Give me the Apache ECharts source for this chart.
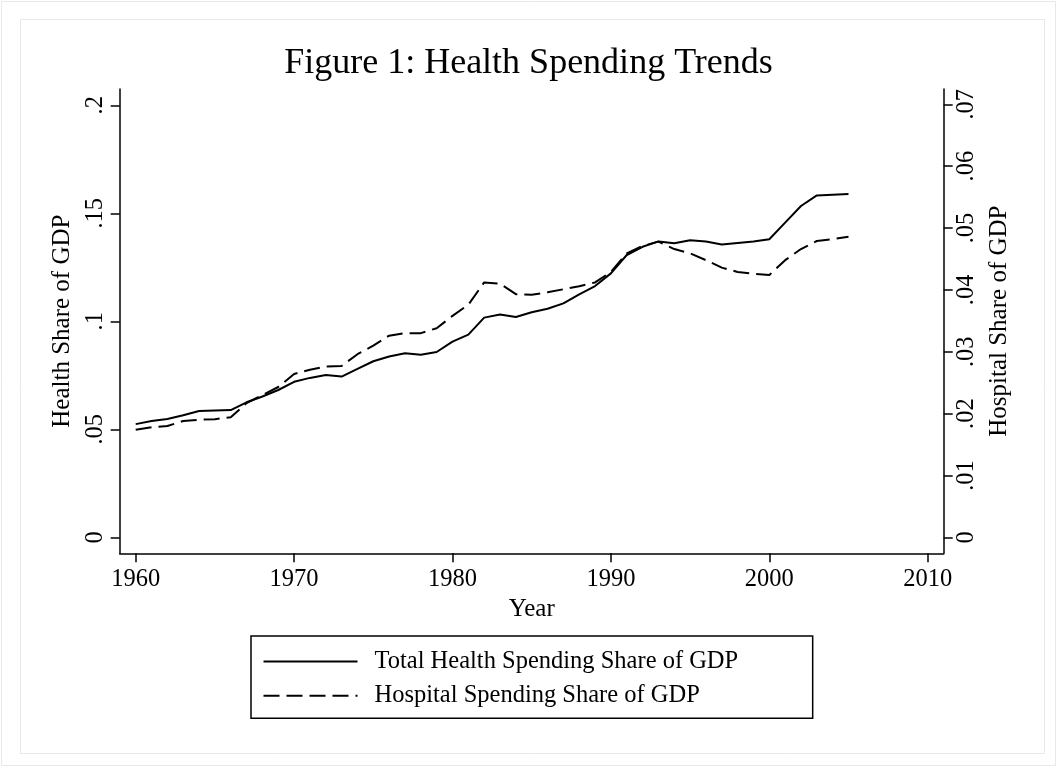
<!DOCTYPE html>
<html><head><meta charset="utf-8">
<script src="https://cdn.jsdelivr.net/npm/echarts@6/dist/echarts.min.js"></script>
<style>html,body{margin:0;padding:0;background:#fff}#c{width:1057px;height:767px}</style>
</head><body><div id="c"></div>
<script>
const years = [1960,1961,1962,1963,1964,1965,1966,1967,1968,1969,
  1970,1971,1972,1973,1974,1975,1976,1977,1978,1979,
  1980,1981,1982,1983,1984,1985,1986,1987,1988,1989,
  1990,1991,1992,1993,1994,1995,1996,1997,1998,1999,
  2000,2001,2002,2003,2004,2005];
const totalHealthShare = [0.0524,0.0538,0.0548,0.0565,0.0585,0.0587,0.0589,0.0625,0.0652,0.0682,
  0.0720,0.0738,0.0751,0.0744,0.0780,0.0815,0.0837,0.0852,0.0845,0.0858,
  0.0906,0.0938,0.1017,0.1031,0.1020,0.1042,0.1058,0.1083,0.1125,0.1163,
  0.1222,0.1307,0.1345,0.1370,0.1361,0.1375,0.1369,0.1356,0.1363,0.1369,
  0.1380,0.1457,0.1534,0.1583,0.1586,0.1589];
const hospitalShare = [0.0174,0.0178,0.0180,0.0188,0.0190,0.0191,0.0194,0.0217,0.0230,0.0243,
  0.0264,0.0271,0.0276,0.0277,0.0296,0.0310,0.0326,0.0330,0.0330,0.0338,
  0.0358,0.0376,0.0412,0.0410,0.0393,0.0392,0.0396,0.0401,0.0406,0.0412,
  0.0429,0.0459,0.0471,0.0478,0.0466,0.0459,0.0448,0.0436,0.0429,0.0426,
  0.0424,0.0448,0.0466,0.0479,0.0482,0.0486];
const seriesNames = ['Total Health Spending Share of GDP','Hospital Spending Share of GDP'];
const xTickValues = [1960,1970,1980,1990,2000,2010];
const leftTickValues = [0,0.05,0.1,0.15,0.2];
const leftTickLabels = ['0','.05','.1','.15','.2'];
const rightTickValues = [0,0.01,0.02,0.03,0.04,0.05,0.06,0.07];
const rightTickLabels = ['0','.01','.02','.03','.04','.05','.06','.07'];

const FONT = 'Liberation Serif';
function lookup(vals, labels){
  return function(v){
    const i = vals.findIndex(t => Math.abs(t - v) < 1e-9);
    return i >= 0 ? labels[i] : '';
  };
}
const lineBlack = {color:'#000', width:1.5};
const labelBase = {fontFamily:FONT, fontSize:24.5, color:'#000', showMinLabel:true, showMaxLabel:true, hideOverlap:false};
const nameStyle = {fontFamily:FONT, fontSize:25, color:'#000'};

const chart = echarts.init(document.getElementById('c'), null, {renderer:'canvas'});
chart.setOption({
  animation:false,
  backgroundColor:'#fff',
  graphic:[
    {type:'rect', shape:{x:1.5,y:1.5,width:1054,height:764}, style:{fill:'none', stroke:'#e8e8e8', lineWidth:1}, silent:true},
    {type:'rect', shape:{x:20.5,y:19.5,width:1024,height:734}, style:{fill:'none', stroke:'#e8e8e8', lineWidth:1}, silent:true}
  ],
  title:{text:'Figure 1: Health Spending Trends', left:'center', top:46, padding:0,
    textStyle:{fontFamily:FONT, fontSize:36, fontWeight:'normal', color:'#000'}},
  grid:{left:119.7, right:113.3, top:89, bottom:213.7, containLabel:false},
  xAxis:{type:'value', min:1958.99, max:2011.01, position:'bottom',
    axisLine:{show:true, onZero:false, lineStyle:lineBlack},
    axisTick:{show:true, length:9, lineStyle:lineBlack, customValues:xTickValues},
    axisLabel:Object.assign({}, labelBase, {margin:14, customValues:xTickValues, formatter:v => String(v)}),
    splitLine:{show:false},
    name:'Year', nameLocation:'middle', nameGap:40, nameTextStyle:nameStyle},
  yAxis:[
    {type:'value', min:-0.00741, max:0.20755, position:'left',
      axisLine:{show:true, onZero:false, lineStyle:lineBlack},
      axisTick:{show:true, length:9, lineStyle:lineBlack, customValues:leftTickValues},
      axisLabel:Object.assign({}, labelBase, {rotate:90, margin:12, customValues:leftTickValues, formatter:lookup(leftTickValues, leftTickLabels)}),
      splitLine:{show:false},
      name:'Health Share of GDP', nameLocation:'middle', nameGap:43, nameRotate:90, nameTextStyle:nameStyle},
    {type:'value', min:-0.002587, max:0.072473, position:'right',
      axisLine:{show:true, onZero:false, lineStyle:lineBlack},
      axisTick:{show:true, length:9, lineStyle:lineBlack, customValues:rightTickValues},
      axisLabel:Object.assign({}, labelBase, {rotate:90, margin:10, customValues:rightTickValues, formatter:lookup(rightTickValues, rightTickLabels)}),
      splitLine:{show:false},
      name:'Hospital Share of GDP', nameLocation:'middle', nameGap:40, nameRotate:90, nameTextStyle:nameStyle}
  ],
  legend:{
    orient:'vertical', left:251, top:636, padding:[13,74.5,10,11.5],
    itemWidth:94, itemHeight:14, itemGap:9.3,
    borderColor:'#000', borderWidth:1.5, borderRadius:0,
    itemStyle:{color:'transparent', borderColor:'transparent', borderWidth:0, opacity:0},
    textStyle:{fontFamily:FONT, fontSize:24.5, color:'#000', lineHeight:25, padding:[0,0,0,12]},
    data:seriesNames
  },
  series:[
    {type:'line', name:seriesNames[0], yAxisIndex:0, symbol:'none', showSymbol:false,
      data:years.map((y,i)=>[y,totalHealthShare[i]]),
      lineStyle:{color:'#000', width:2}, itemStyle:{color:'#000'}},
    {type:'line', name:seriesNames[1], yAxisIndex:1, symbol:'none', showSymbol:false,
      data:years.map((y,i)=>[y,hospitalShare[i]]),
      lineStyle:{color:'#000', width:2, type:[16,7]}, itemStyle:{color:'#000'}}
  ]
});
</script>
</body></html>
